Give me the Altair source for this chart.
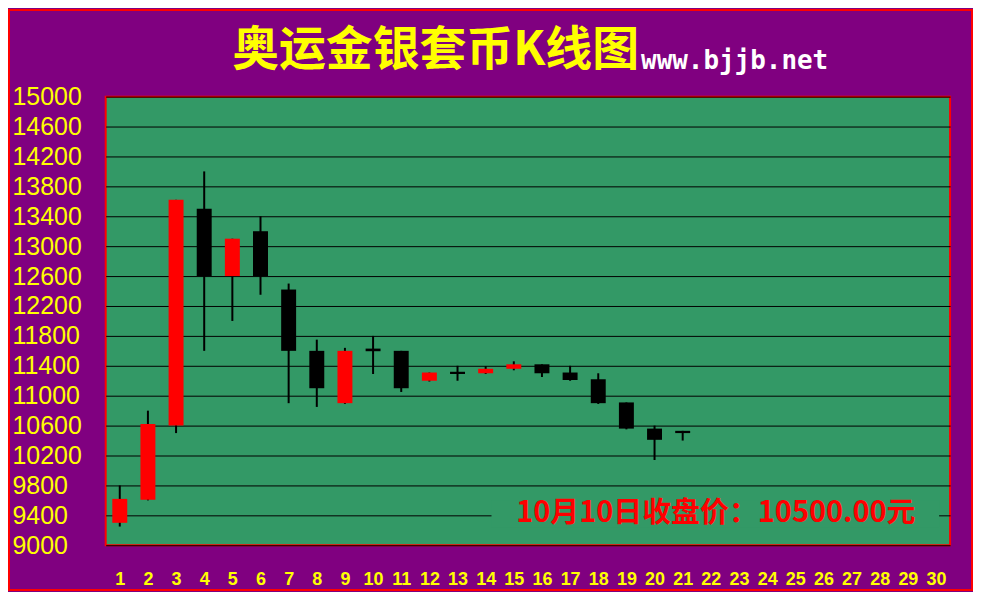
import altair as alt
import pandas as pd

# ---- data ----
days   = list(range(1, 22))
opens  = [9300, 9610, 10600, 13500, 12600, 13200, 12420, 11600, 10900, 11630, 11600,
          11200, 11320, 11300, 11360, 11420, 11310, 11220, 10910, 10560, 10530]
closes = [9620, 10620, 13620, 12600, 13100, 12600, 11600, 11100, 11600, 11595, 11100,
          11310, 11290, 11360, 11420, 11300, 11210, 10900, 10560, 10410, 10500]
highs  = [9800, 10800, 13620, 14000, 13100, 13400, 12500, 11750, 11640, 11800, 11600,
          11310, 11400, 11395, 11460, 11420, 11400, 11300, 10910, 10600, 10530]
lows   = [9250, 9600, 10500, 11600, 12000, 12350, 10900, 10850, 10890, 11290, 11050,
          11190, 11200, 11290, 11340, 11250, 11200, 10890, 10550, 10140, 10400]

x_ticks = list(range(1, 31))
y_ticks = list(range(9000, 15001, 400))

title_text = "奥运金银套币K线图"
url_text = "www.bjjb.net"
note_text = "10月10日收盘价：10500.00元"

PURPLE = "#800080"
GREEN = "#339966"
YELLOW = "#ffff00"
RED = "#ff0000"

df = pd.DataFrame({
    "day": days, "open": opens, "close": closes, "high": highs, "low": lows,
})
df["dir"] = ["up" if c > o else "down" for o, c in zip(opens, closes)]

x_scale = alt.Scale(domain=[0.5, 30.5], nice=False, zero=False, padding=0)
y_scale = alt.Scale(domain=[9000, 15000], nice=False, zero=False, padding=0)
x_axis = alt.Axis(values=x_ticks, format="d", grid=False, domain=False, ticks=False,
                  tickSize=0, labelColor=YELLOW, labelFont="Liberation Sans",
                  labelFontSize=18, labelFontWeight="bold", labelPadding=25,
                  labelBaseline="top", labelFlush=False, labelOverlap=False, title=None)
y_axis = alt.Axis(values=y_ticks, format="d", grid=True, gridColor="black", gridWidth=1,
                  gridOpacity=1, domain=False, ticks=False, tickSize=0, labelAlign="left",
                  labelPadding=94, labelColor=YELLOW, labelFont="Liberation Sans",
                  labelFontSize=25, labelFlush=False, labelOverlap=False, title=None)

base = alt.Chart(df)

wicks = base.mark_rule(color="black", strokeWidth=2).encode(
    x=alt.X("day:Q", scale=x_scale, axis=x_axis),
    y=alt.Y("low:Q", scale=y_scale, axis=y_axis),
    y2="high:Q",
)
bodies = base.mark_bar(size=15).encode(
    x=alt.X("day:Q", scale=x_scale, axis=x_axis),
    y=alt.Y("open:Q", scale=y_scale, axis=y_axis),
    y2="close:Q",
    color=alt.Color("dir:N", scale=alt.Scale(domain=["up", "down"], range=[RED, "#000000"]),
                    legend=None),
)

one = pd.DataFrame({"title": [title_text], "url": [url_text], "note": [note_text]})
deco = alt.Chart(one)

note_bg = deco.mark_rect(fill=GREEN).encode(
    x=alt.value(387), x2=alt.value(836), y=alt.value(405), y2=alt.value(432))
note = deco.mark_text(color=RED, font="Noto Sans CJK SC", fontSize=29, fontWeight="bold",
                      align="center", baseline="middle").encode(
    x=alt.value(612), y=alt.value(418), text="note:N")
title = deco.mark_text(color=YELLOW, font="Noto Sans CJK SC", fontSize=47, fontWeight="bold",
                       align="right", baseline="middle").encode(
    x=alt.value(535), y=alt.value(-46), text="title:N")
url = deco.mark_text(color="white", font="DejaVu Sans Mono", fontSize=26, fontWeight="bold",
                     align="left", baseline="middle").encode(
    x=alt.value(537), y=alt.value(-36), text="url:N")
frame = deco.mark_rect(fill=None, stroke=RED, strokeWidth=2).encode(
    x=alt.value(-97), x2=alt.value(869), y=alt.value(-87), y2=alt.value(495))

chart = alt.layer(wicks, bodies, note_bg, note, title, url, frame).properties(
    width=847, height=450,
    padding={"left": 98, "top": 88, "right": 23, "bottom": 46},
    autosize="none",
    background=PURPLE,
).configure_view(fill=GREEN, stroke=RED, strokeWidth=2)

chart.save("out.html", embed_options={"renderer": "svg", "actions": False})
